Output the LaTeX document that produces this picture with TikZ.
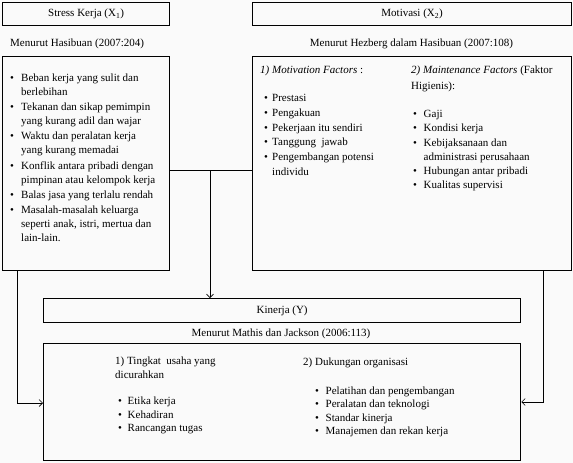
\documentclass[tikz,border=0pt]{standalone}
\usepackage{fontspec}
\setmainfont{Liberation Serif}
\usetikzlibrary{arrows.meta,calc}
\newcommand{\bul}[2]{\par\hangindent=#1\hangafter=1\noindent\makebox[#1][l]{\textbullet}#2}
\newcommand{\blist}[3]{\begin{minipage}[t]{200pt}\fontsize{11}{#1}\selectfont\setlength{\parskip}{#2}#3\end{minipage}}
\definecolor{bgc}{RGB}{250,250,250}
\begin{document}
\begin{tikzpicture}[x=1pt,y=-1pt,
  box/.style={draw=black,line width=1.3pt,inner sep=0pt,anchor=north west},
  txt/.style={inner sep=0pt,font=\fontsize{11}{14}\selectfont},
  conn/.style={draw=black,line width=0.6pt},
  tip/.style={-{Straight Barb[length=3.5pt,width=7pt]}}]
\useasboundingbox[fill=bgc] (0,0) rectangle (573,463);
% boxes
\node[box,minimum width=167pt,minimum height=23pt,font=\fontsize{11}{14}\selectfont] (t1) at (2,2) {Stress Kerja (X\textsubscript{1})};
\node[box,minimum width=167pt,minimum height=214pt] (b1) at (2,56) {};
\node[box,minimum width=319pt,minimum height=23pt,font=\fontsize{11}{14}\selectfont] (t2) at (252,2) {Motivasi (X\textsubscript{2})};
\node[box,minimum width=319pt,minimum height=214pt] (b2) at (252,56) {};
\node[box,minimum width=477pt,minimum height=24pt,font=\fontsize{11}{14}\selectfont] (t3) at (43,298) {Kinerja (Y)};
\node[box,minimum width=477pt,minimum height=117pt] (b3) at (43,343) {};
% source labels
\node[txt,anchor=base west] (s1) at (10,46.5) {Menurut Hasibuan (2007:204)};
\node[txt,anchor=base] (s2) at (411.5,46.5) {Menurut Hezberg dalam Hasibuan (2007:108)};
\node[txt,anchor=base] (s3) at (281,336.5) {Menurut Mathis dan Jackson (2006:113)};
% stress list
\node[txt,anchor=base west] (l1) at (10,81.5) {\blist{14pt}{1.2pt}{%
\bul{11pt}{Beban kerja yang sulit dan\\berlebihan}
\bul{11pt}{Tekanan dan sikap pemimpin\\yang kurang adil dan wajar}
\bul{11pt}{Waktu dan peralatan kerja\\yang kurang memadai}
\bul{11pt}{Konflik antara pribadi dengan\\pimpinan atau kelompok kerja}
\bul{11pt}{Balas jasa yang terlalu rendah}
\bul{11pt}{Masalah-masalah keluarga\\seperti anak, istri, mertua dan\\lain-lain.}}};
% motivasi
\node[txt,anchor=base west] (h1) at (260,73.5) {\textit{1) Motivation Factors} :};
\node[txt,anchor=base west] (h2) at (411,73.5) {\blist{16pt}{0pt}{\noindent\textit{2) Maintenance Factors} (Faktor\\Higienis):}};
\node[txt,anchor=base west] (l2) at (264,101.5) {\blist{14.8pt}{0pt}{%
\bul{8pt}{Prestasi}
\bul{8pt}{Pengakuan}
\bul{8pt}{Pekerjaan itu sendiri}
\bul{8pt}{Tanggung\ \ jawab}
\bul{8pt}{Pengembangan potensi\\individu}}};
\node[txt,anchor=base west] (l3) at (413,117.5) {\blist{14.25pt}{0pt}{%
\bul{10.5pt}{Gaji}
\bul{10.5pt}{Kondisi kerja}
\bul{10.5pt}{Kebijaksanaan dan\\administrasi perusahaan}
\bul{10.5pt}{Hubungan antar pribadi}
\bul{10.5pt}{Kualitas supervisi}}};
% kinerja
\node[txt,anchor=base west] (h3) at (115,364.5) {\blist{14pt}{0pt}{\noindent 1) Tingkat\ \ usaha yang\\dicurahkan}};
\node[txt,anchor=base west] (l4) at (118,404.5) {\blist{13.5pt}{0pt}{%
\bul{9.5pt}{Etika kerja}
\bul{9.5pt}{Kehadiran}
\bul{9.5pt}{Rancangan tugas}}};
\node[txt,anchor=base west] (h4) at (303,365.5) {2) Dukungan organisasi};
\node[txt,anchor=base west] (l5) at (315,394.5) {\blist{13.3pt}{0pt}{%
\bul{10.5pt}{Pelatihan dan pengembangan}
\bul{10.5pt}{Peralatan dan teknologi}
\bul{10.5pt}{Standar kinerja}
\bul{10.5pt}{Manajemen dan rekan kerja}}};
% connectors
\coordinate (j) at (210,170);
\coordinate (l) at (17,403);
\coordinate (r) at (543,402);
\draw[conn] (b1.east |- j) -- (b2.west |- j);
\draw[conn,tip] (j) -- (t3.north -| j);
\draw[conn,tip] (b1.south -| l) -- (l) -- (b3.west |- l);
\draw[conn,tip] (b2.south -| r) -- (r) -- (b3.east |- r);
\end{tikzpicture}
\end{document}
